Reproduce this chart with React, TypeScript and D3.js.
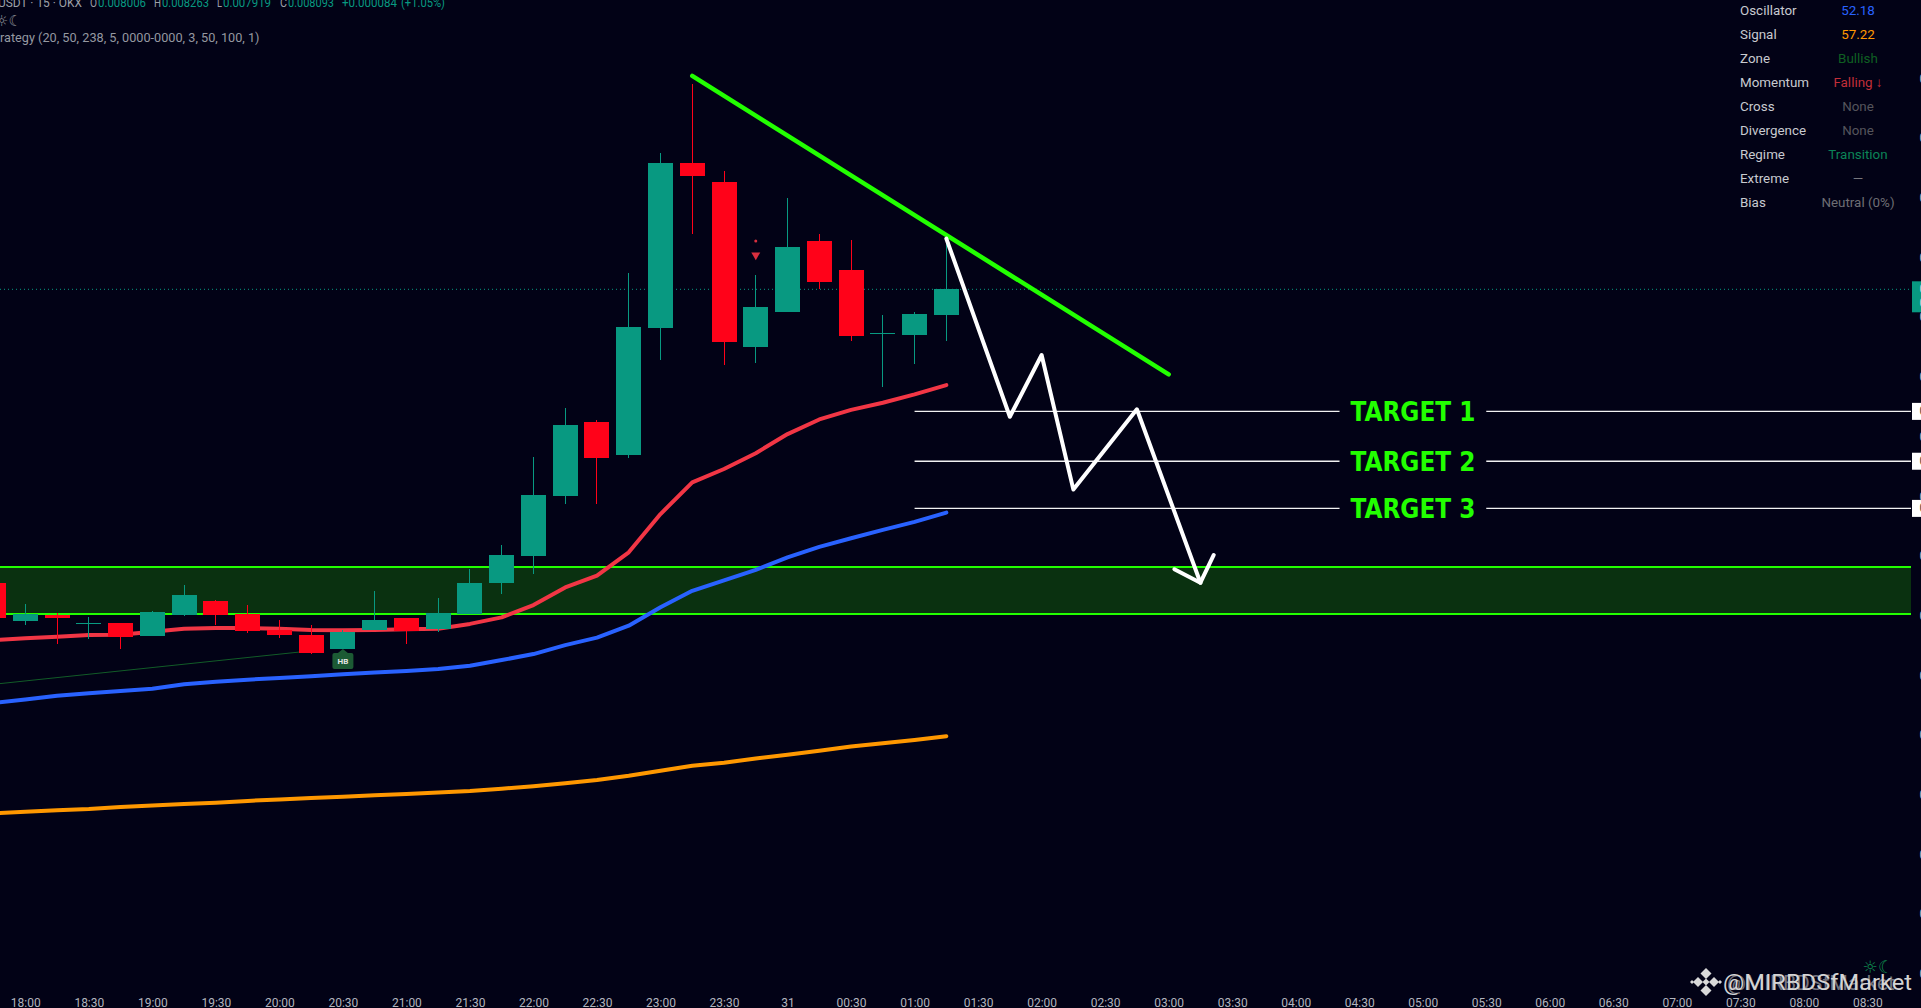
import * as d3 from 'd3';
import { useEffect, useRef } from 'react';

// all prices are price x 1e6, bar 0 is the 18:00 candle, first entry of each array is bar -1
const firstBar = -1;
const opens = [7109, 6982, 7001, 6974, 6975, 6932, 7002, 7049, 7005, 6952, 6935, 6888, 6952, 6992, 6955, 7005, 7109, 7200, 7401, 7648, 7538, 7963, 8516, 8452, 7901, 8018, 8255, 8158, 7946, 7940, 8006];
const highs = [7136, 7039, 7009, 6995, 6976, 7015, 7102, 7052, 7035, 6985, 6968, 6952, 7082, 6993, 7059, 7156, 7236, 7531, 7695, 7655, 8148, 8549, 8781, 8488, 8141, 8399, 8278, 8258, 8007, 8017, 8263];
const lows = [6968, 6968, 6905, 6922, 6888, 6932, 6999, 6968, 6942, 6925, 6871, 6888, 6952, 6905, 6945, 7005, 7072, 7139, 7374, 7374, 7528, 7856, 8279, 7840, 7847, 8018, 8093, 7921, 7767, 7844, 7919];
const closes = [6993, 7005, 6993, 6975, 6928, 7012, 7069, 7002, 6948, 6935, 6875, 6945, 6985, 6948, 7009, 7109, 7203, 7404, 7638, 7528, 7967, 8516, 8474, 7917, 8034, 8235, 8118, 7938, 7947, 8010, 8093];

const maFast = [6918, 6924, 6929, 6935, 6936, 6946, 6956, 6958, 6958, 6956, 6952, 6951, 6952, 6954, 6956, 6972, 6994, 7035, 7094, 7134, 7212, 7340, 7446, 7491, 7544, 7608, 7657, 7689, 7713, 7741, 7772];
const maMid = [6707, 6719, 6731, 6740, 6747, 6755, 6770, 6778, 6785, 6791, 6797, 6803, 6809, 6814, 6821, 6832, 6851, 6871, 6901, 6926, 6966, 7028, 7083, 7118, 7153, 7195, 7230, 7259, 7287, 7314, 7345];
const maSlow = [6337, 6343, 6348, 6352, 6359, 6364, 6369, 6373, 6379, 6384, 6389, 6393, 6398, 6402, 6407, 6412, 6420, 6428, 6438, 6449, 6463, 6480, 6497, 6507, 6521, 6534, 6547, 6561, 6572, 6583, 6596];

const timeLabels = ["18:00", "18:30", "19:00", "19:30", "20:00", "20:30", "21:00", "21:30", "22:00", "22:30", "23:00", "23:30", "31", "00:30", "01:00", "01:30", "02:00", "02:30", "03:00", "03:30", "04:00", "04:30", "05:00", "05:30", "06:00", "06:30", "07:00", "07:30", "08:00", "08:30"];
const priceTicks = [8800, 8600, 8400, 8200, 8000, 7800, 7600, 7400, 7200, 7000, 6800, 6600, 6400, 6200, 6000, 5800];

const lastPrice = 8093;
const zoneTop = 7163;
const zoneBottom = 7005;
const targets = [
    { label: "TARGET 1", price: 7684 },
    { label: "TARGET 2", price: 7517 },
    { label: "TARGET 3", price: 7359 },
];
const targetStart = 28;
const targetGap = [41.38, 46];
const trendBars = [21, 36];
const trendPrices = [8808, 7808];
const pathBars = [29, 31, 32, 33, 35, 37];
const pathPrices = [8263, 7666, 7873, 7422, 7691, 7110];
const headBars = [36.18, 37, 37.42];
const headPrices = [7155, 7110, 7203];
const thinBars = [-0.8, 9.28];
const thinPrices = [6772, 6885];
const markerBar = 23;
const markerTriangle = 8208;
const markerDot = 8255;

const tableRows = ["Oscillator", "Signal", "Zone", "Momentum", "Cross", "Divergence", "Regime", "Extreme", "Bias"];
const tableValues = ["52.18", "57.22", "Bullish", "Falling ↓", "None", "None", "Transition", "—", "Neutral (0%)"];
const tableColors = ["#2962ff", "#ff9800", "#0f5f22", "#c22f39", "#55555c", "#55555c", "#0b8457", "#77777d", "#6e6e74"];

const WIDTH = 1921, HEIGHT = 1008, CHART_RIGHT = 1911;
const BG = "#020216";
const UP = "#089981", DOWN = "#ff0219", LIME = "#22ff00";
const FONT = "Roboto, sans-serif";

const App = () => {
    const ref = useRef<SVGSVGElement>(null);
    useEffect(() => {
        const svg = d3.select(ref.current);
        svg.selectAll("*").remove();

        const x: any = d3.scaleLinear().domain([0, 1]).range([25.3, 57.06]);
        const y: any = d3.scaleLinear().domain([8093, 8000]).range([289.3, 317.06]);
        const barOf = (k: number) => k + firstBar;
        const line2: any = d3.line<any>().x((d) => x(d[0])).y((d) => y(d[1]));

        svg.append("defs").append("clipPath").attr("id", "pane")
            .append("rect").attr("width", CHART_RIGHT).attr("height", HEIGHT);
        const pane = svg.append("g").attr("clip-path", "url(#pane)");

        // zone
        pane.append("rect").attr("x", 0).attr("width", CHART_RIGHT)
            .attr("y", y(zoneTop)).attr("height", y(zoneBottom) - y(zoneTop))
            .attr("fill", "#0a3110");
        [zoneTop, zoneBottom].forEach((p) => {
            pane.append("line").attr("x1", 0).attr("x2", CHART_RIGHT).attr("y1", y(p)).attr("y2", y(p))
                .attr("stroke", LIME).attr("stroke-width", 2);
        });

        // last price line
        pane.append("line").attr("x1", 0).attr("x2", CHART_RIGHT).attr("y1", y(lastPrice)).attr("y2", y(lastPrice))
            .attr("stroke", UP).attr("stroke-dasharray", "1 3");

        pane.append("path").attr("d", line2(thinBars.map((b, i) => [b, thinPrices[i]])))
            .attr("fill", "none").attr("stroke", "#125c28").attr("stroke-width", 1);

        // moving averages
        const maSeries: [number[], string][] = [[maSlow, "#ff9800"], [maMid, "#2962ff"], [maFast, "#f23645"]];
        maSeries.forEach(([vals, color]) => {
            pane.append("path").attr("d", line2(vals.map((v, i) => [barOf(i), v])))
                .attr("fill", "none").attr("stroke", color).attr("stroke-width", 4)
                .attr("stroke-linecap", "round").attr("stroke-linejoin", "round");
        });

        // candles
        const candles = pane.append("g").attr("shape-rendering", "crispEdges");
        opens.forEach((o, i) => {
            const c = closes[i];
            const color = c >= o ? UP : DOWN;
            const cx = x(barOf(i));
            candles.append("line").attr("x1", cx).attr("x2", cx)
                .attr("y1", y(highs[i])).attr("y2", y(lows[i]))
                .attr("stroke", color).attr("stroke-width", 1);
            const top = y(Math.max(o, c)), bottom = y(Math.min(o, c));
            candles.append("rect").attr("x", cx - 12.5).attr("width", 25)
                .attr("y", top).attr("height", Math.max(1, bottom - top))
                .attr("fill", color);
        });

        // HB label under the 20:30 candle
        const hbX = x(10), hbY = y(lows[11]);
        const hb = pane.append("g").attr("transform", `translate(${hbX},${hbY})`);
        hb.append("path").attr("d", "M0,0L5,4H8.5Q10.5,4 10.5,6V18Q10.5,20 8.5,20H-8.5Q-10.5,20 -10.5,18V6Q-10.5,4 -8.5,4H-5Z")
            .attr("fill", "#1c5a34");
        hb.append("text").attr("y", 15.5).attr("text-anchor", "middle").attr("font-family", FONT)
            .attr("font-size", 8).attr("font-weight", 700).attr("fill", "#e6e6e6").text("HB");

        // red marker above the 23:45 candle
        const mark = pane.append("g").attr("fill", "#d92f3e");
        mark.append("path").attr("d", d3.symbol().type(d3.symbolTriangle).size(35)())
            .attr("transform", `translate(${x(markerBar)},${y(markerTriangle)}) rotate(180)`);
        mark.append("circle").attr("cx", x(markerBar)).attr("cy", y(markerDot)).attr("r", 1.5);

        // targets
        targets.forEach((t) => {
            const yy = y(t.price);
            pane.append("line").attr("x1", x(targetStart)).attr("x2", x(targetGap[0])).attr("y1", yy).attr("y2", yy)
                .attr("stroke", "#f2f2f2").attr("stroke-width", 1.3);
            pane.append("line").attr("x1", x(targetGap[1])).attr("x2", CHART_RIGHT).attr("y1", yy).attr("y2", yy)
                .attr("stroke", "#f2f2f2").attr("stroke-width", 1.3);
            pane.append("text").attr("x", x((targetGap[0] + targetGap[1]) / 2)).attr("y", yy + 9.5)
                .attr("text-anchor", "middle").attr("font-family", "'DejaVu Sans', sans-serif")
                .attr("font-weight", 700).attr("font-size", 26).attr("fill", LIME)
                .attr("textLength", 125).attr("lengthAdjust", "spacingAndGlyphs").text(t.label);
        });

        // drawings
        pane.append("path").attr("d", line2(trendBars.map((b, i) => [b, trendPrices[i]])))
            .attr("fill", "none").attr("stroke", LIME).attr("stroke-width", 4.5).attr("stroke-linecap", "round");
        [pathBars.map((b, i) => [b, pathPrices[i]]), headBars.map((b, i) => [b, headPrices[i]])].forEach((pts) => {
            pane.append("path").attr("d", line2(pts))
                .attr("fill", "none").attr("stroke", "#ffffff").attr("stroke-width", 4)
                .attr("stroke-linecap", "round").attr("stroke-linejoin", "round");
        });

        // price tags on the cut off right axis
        svg.append("rect").attr("x", CHART_RIGHT + 1).attr("width", 9).attr("y", y(lastPrice) - 8).attr("height", 31).attr("fill", UP);
        targets.forEach((t) => {
            svg.append("rect").attr("x", CHART_RIGHT + 1).attr("width", 9).attr("y", y(t.price) - 8.5).attr("height", 17).attr("fill", "#ffffff");
            svg.append("text").attr("x", 1919.5).attr("y", y(t.price) + 4).attr("font-family", FONT).attr("font-size", 12)
                .attr("fill", "#444").text((t.price / 1e6).toFixed(6));
        });
        svg.append("text").attr("x", 1919.5).attr("y", y(lastPrice) + 4).attr("font-family", FONT).attr("font-size", 12)
            .attr("fill", "#d8d8d8").text((lastPrice / 1e6).toFixed(6));
        svg.append("text").attr("x", 1919.5).attr("y", y(lastPrice) + 18).attr("font-family", FONT).attr("font-size", 12)
            .attr("fill", "#d8d8d8").text("02:18");

        // axes
        const xAxis: any = d3.axisBottom(x)
            .tickValues(timeLabels.map((_, i) => i * 2))
            .tickFormat((_: any, i: number) => timeLabels[i])
            .tickSize(0).tickPadding(0);
        const xg: any = svg.append("g").attr("transform", "translate(0,998)").call(xAxis);
        xg.select(".domain").remove();
        xg.selectAll("text").attr("font-family", FONT).attr("font-size", 12).attr("fill", "#b2b5be");

        const yAxis: any = d3.axisRight(y)
            .tickValues(priceTicks)
            .tickFormat((d: any) => (d / 1e6).toFixed(6))
            .tickSize(0).tickPadding(0);
        const yg: any = svg.append("g").attr("transform", "translate(1919.5,0)").call(yAxis);
        yg.select(".domain").remove();
        yg.selectAll("text").attr("font-family", FONT).attr("font-size", 12).attr("fill", "#b2b5be");

        // legend, top left
        const legend = svg.append("g").attr("font-family", FONT).attr("font-size", 12.7);
        const legendBits: [string, number, number, string][] = [
            ["USDT · 15 · OKX", -2, 84, "#9da0a8"], ["O", 90, 7, "#9da0a8"], ["0.008006", 98, 48, UP],
            ["H", 154, 7, "#9da0a8"], ["0.008263", 162, 47, UP], ["L", 217, 5, "#9da0a8"], ["0.007919", 223, 48, UP],
            ["C", 280, 7, "#9da0a8"], ["0.008093", 288, 46, UP], ["+0.000084", 342, 55, UP], ["(+1.05%)", 401, 44, UP],
        ];
        legendBits.forEach(([s, lx, w, c]) => {
            legend.append("text").attr("x", lx).attr("y", 6.5).attr("fill", c)
                .attr("textLength", w).attr("lengthAdjust", "spacingAndGlyphs").text(s);
        });
        legend.append("text").attr("x", -5).attr("y", 25.5).attr("fill", "#8a8d95").attr("font-family", "'DejaVu Sans'").attr("font-size", 15).text("☼☾");
        legend.append("text").attr("x", 0).attr("y", 42).attr("fill", "#9598a1")
            .text("rategy (20, 50, 238, 5, 0000-0000, 3, 50, 100, 1)");

        // table, top right
        const table = svg.append("g").attr("font-family", FONT).attr("font-size", 13.4);
        tableRows.forEach((r, i) => {
            const ty = 14.5 + i * 24;
            table.append("text").attr("x", 1740).attr("y", ty).attr("fill", "#c8cad0").text(r);
            table.append("text").attr("x", 1858).attr("y", ty).attr("text-anchor", "middle").attr("fill", tableColors[i]).text(tableValues[i]);
        });

        // watermark
        svg.append("text").attr("x", 1878).attr("y", 973).attr("text-anchor", "middle").attr("font-family", "'DejaVu Sans'")
            .attr("font-size", 17).attr("fill", "#0f8a4f").text("☼☾");
        const logo = svg.append("g").attr("fill", "#d9d9d9").attr("transform", "translate(1706,982)");
        const diamonds = [[0, -8.5, 5.5], [-8, 0, 5], [8, 0, 5], [0, 8.5, 5.5], [0, 0, 3.5], [-14, 0, 2], [14, 0, 2]];
        diamonds.forEach(([dx, dy, r]) => {
            logo.append("path").attr("d", `M${dx},${dy - r}L${dx + r},${dy}L${dx},${dy + r}L${dx - r},${dy}Z`);
        });
        svg.append("text").attr("x", 1723).attr("y", 990).attr("font-family", FONT).attr("font-size", 22)
            .attr("fill", "#d4d4d4").attr("textLength", 189).attr("lengthAdjust", "spacingAndGlyphs").text("@MIRBDSfMarket");
        // the reference carries the watermark twice, slightly out of register
        svg.append("text").attr("x", 1727).attr("y", 990).attr("font-family", FONT).attr("font-size", 21)
            .attr("fill", "#d4d4d4").attr("fill-opacity", 0.55).attr("textLength", 168).attr("lengthAdjust", "spacingAndGlyphs").text("@MIRBDSfMarket");
    }, []);

    return (
        <svg ref={ref} width={WIDTH} height={HEIGHT}
            style={{ position: "absolute", left: 0, top: 0, display: "block", background: BG }} />
    );
};
export default App;
